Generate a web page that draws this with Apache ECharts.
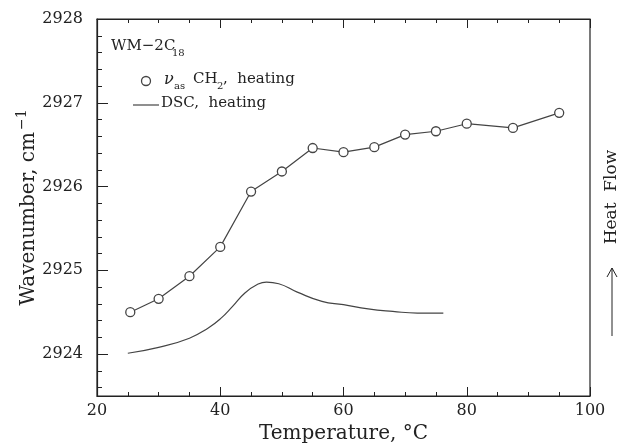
<!DOCTYPE html>
<html>
<head>
<meta charset="utf-8">
<script src="https://cdn.jsdelivr.net/npm/echarts@6/dist/echarts.min.js"></script>
<style>
  html, body { margin: 0; padding: 0; background: #fff; }
  #chart { width: 626px; height: 445px; }
</style>
</head>
<body>
<div id="chart"></div>
<script>
// IR band position (nu_as CH2), heating
const irTemp = [25.4, 30, 35, 40, 45, 50, 55, 60, 65, 70, 75, 80, 87.5, 95];
const irWave = [2924.50, 2924.66, 2924.93, 2925.28, 2925.94, 2926.18, 2926.46,
                2926.41, 2926.47, 2926.62, 2926.66, 2926.75, 2926.70, 2926.88];

// DSC trace (arbitrary units, plotted on the wavenumber scale)
const dscTemp = [25, 30, 35, 38, 40, 42, 44, 46, 47.5, 49.5, 52.5, 56.5, 60,
                 64, 68, 72, 76.2];
const dscFlow = [2924.01, 2924.08, 2924.19, 2924.31, 2924.42, 2924.57, 2924.73,
                 2924.83, 2924.86, 2924.84, 2924.74, 2924.63, 2924.59, 2924.54,
                 2924.51, 2924.49, 2924.49];

const yMajor = [2924, 2925, 2926, 2927, 2928];
const yMinor = [2923.6, 2923.8, 2924.2, 2924.4, 2924.6, 2924.8, 2925.2, 2925.4,
                2925.6, 2925.8, 2926.2, 2926.4, 2926.6, 2926.8, 2927.2, 2927.4,
                2927.6, 2927.8];

const FONT = 'DejaVu Serif';
const INK = '#222';
const LINE = '#444';

const chart = echarts.init(document.getElementById('chart'), null, { renderer: 'canvas' });

const baseX = {
    type: 'value', min: 20, max: 100, interval: 20,
    axisLine: { show: true, lineStyle: { color: INK, width: 1.2 } },
    axisTick: { inside: true, length: 9, lineStyle: { color: INK } },
    minorTick: { show: true, splitNumber: 4, length: 4, lineStyle: { color: INK } },
    splitLine: { show: false }
};

chart.setOption({
    backgroundColor: '#fff',
    animation: false,
    grid: {
        left: 97, right: 36, top: 19, bottom: 49,
        outerBoundsMode: 'none',
        show: true, borderColor: INK, borderWidth: 1.2
    },
    xAxis: [
        Object.assign({}, baseX, {
            position: 'bottom',
            name: 'Temperature, °C',
            nameLocation: 'middle',
            nameGap: 26,
            nameTextStyle: { fontFamily: FONT, fontSize: 20, color: INK },
            axisLabel: { margin: 7, fontFamily: FONT, fontSize: 16, color: INK }
        }),
        Object.assign({}, baseX, {
            position: 'top',
            axisLabel: { show: false }
        })
    ],
    yAxis: [
        {
            type: 'value', min: 2923.5, max: 2928,
            position: 'left',
            name: '{a|Wavenumber, cm}{b|−1}',
            nameLocation: 'middle',
            nameRotate: 90,
            nameGap: 54,
            nameMoveOverlap: false,
            nameTextStyle: {
                color: INK,
                rich: {
                    a: { fontFamily: FONT, fontSize: 20, color: INK, lineHeight: 28 },
                    b: { fontFamily: FONT, fontSize: 14, color: INK, lineHeight: 28, verticalAlign: 'top', padding: [0, 0, 12, 2] }
                }
            },
            axisLine: { show: true, lineStyle: { color: INK, width: 1.2 } },
            axisTick: { inside: true, length: 11, customValues: yMajor, lineStyle: { color: INK } },
            axisLabel: {
                customValues: yMajor, margin: 14, fontFamily: FONT, fontSize: 16, color: INK,
                formatter: v => String(Math.round(v))
            },
            splitLine: { show: false }
        },
        {
            type: 'value', min: 2923.5, max: 2928,
            position: 'left',
            axisLine: { show: false },
            axisTick: { inside: true, length: 5, customValues: yMinor, lineStyle: { color: INK } },
            axisLabel: { show: false },
            splitLine: { show: false }
        }
    ],
    series: [
        {
            name: 'IR', type: 'line',
            data: irTemp.map((t, i) => [t, irWave[i]]),
            symbol: 'circle', symbolSize: 9,
            itemStyle: { color: '#fff', borderColor: LINE, borderWidth: 1.3 },
            lineStyle: { color: LINE, width: 1.2 },
            z: 3
        },
        {
            name: 'DSC', type: 'line',
            data: dscTemp.map((t, i) => [t, dscFlow[i]]),
            smooth: 0.5,
            showSymbol: false,
            lineStyle: { color: LINE, width: 1.2 }
        }
    ],
    graphic: [
        { type: 'text', left: 111, top: 39, style: { text: 'WM−2C', fontFamily: FONT, fontSize: 15, fill: INK } },
        { type: 'text', left: 172, top: 48, style: { text: '18', fontFamily: FONT, fontSize: 10, fill: INK } },
        { type: 'circle', shape: { cx: 146, cy: 81, r: 4.5 }, style: { fill: '#fff', stroke: LINE, lineWidth: 1.3 } },
        { type: 'text', left: 164, top: 72, style: { text: 'ν', fontFamily: FONT, fontStyle: 'italic', fontSize: 16, fill: INK } },
        { type: 'text', left: 174, top: 81, style: { text: 'as', fontFamily: FONT, fontSize: 10, fill: INK } },
        { type: 'text', left: 193, top: 72, style: { text: 'CH', fontFamily: FONT, fontSize: 15, fill: INK } },
        { type: 'text', left: 217, top: 81, style: { text: '2', fontFamily: FONT, fontSize: 10, fill: INK } },
        { type: 'text', left: 223, top: 72, style: { text: ',  heating', fontFamily: FONT, fontSize: 15, fill: INK } },
        { type: 'line', shape: { x1: 133, y1: 105, x2: 159, y2: 105 }, style: { stroke: LINE, lineWidth: 1.2 } },
        { type: 'text', left: 161, top: 96, style: { text: 'DSC,  heating', fontFamily: FONT, fontSize: 15, fill: INK } },
        {
            type: 'text', x: 612, y: 197, rotation: Math.PI / 2,
            style: { text: 'Heat  Flow', fontFamily: FONT, fontSize: 17, fill: INK, align: 'center', verticalAlign: 'middle' }
        },
        { type: 'line', shape: { x1: 612, y1: 336, x2: 612, y2: 268 }, style: { stroke: INK, lineWidth: 1 } },
        { type: 'polyline', shape: { points: [[607, 277], [612, 268], [617, 277]] }, style: { stroke: INK, lineWidth: 1, fill: null } }
    ]
});
</script>
</body>
</html>
